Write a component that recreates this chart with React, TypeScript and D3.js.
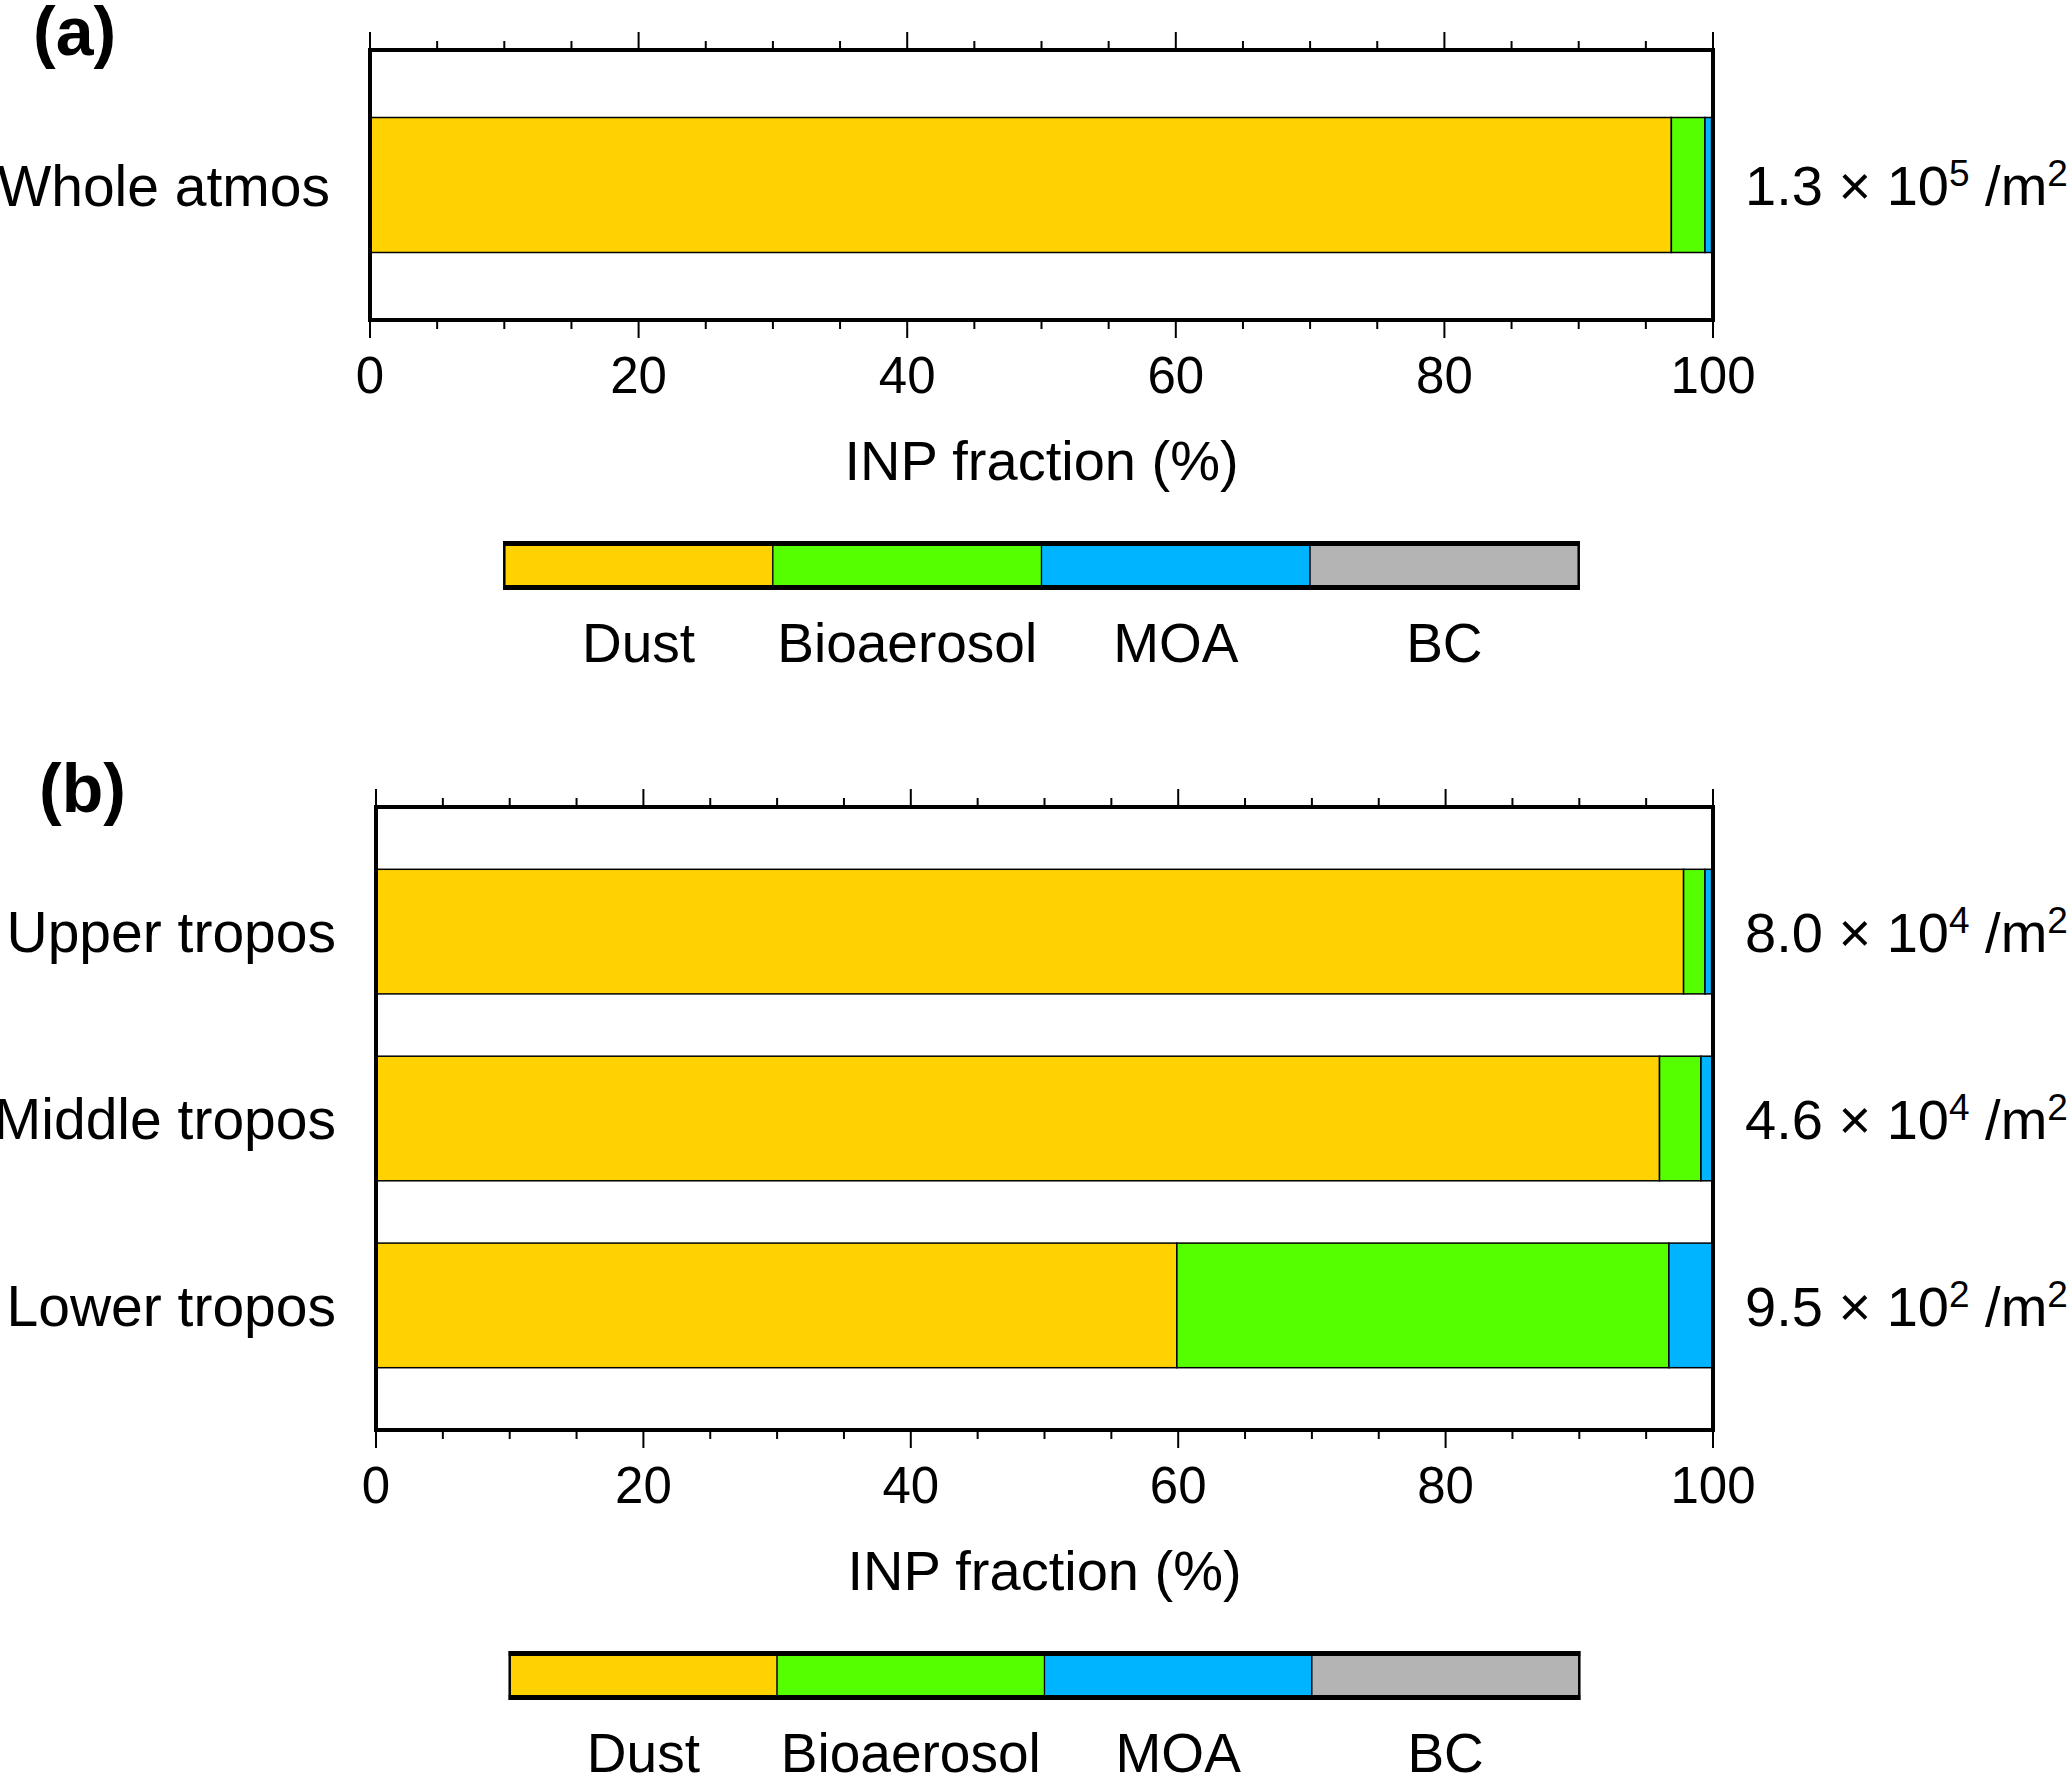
import * as d3 from 'd3';
import React from 'react';

const W = 2067;
const H = 1774;
const FONT = '"Liberation Sans", Arial, Helvetica, sans-serif';

const species = ['Dust', 'Bioaerosol', 'MOA', 'BC'];
const speciesColors = ['#FFD200', '#55FF00', '#00B4FF', '#B4B4B4'];

const regions = ['Whole atmos', 'Upper tropos', 'Middle tropos', 'Lower tropos'];
const dustPct = [96.9, 97.8, 96.0, 59.9];
const bioPct = [2.5, 1.6, 3.1, 36.8];
const moaPct = [0.5, 0.5, 0.85, 3.25];
const bcPct = [0.1, 0.1, 0.05, 0.05];
const totalMantissa = ['1.3', '8.0', '4.6', '9.5'];
const totalExponent = ['5', '4', '4', '2'];

const majorTicks = [0, 20, 40, 60, 80, 100];
const axisTitle = 'INP fraction (%)';

interface PanelProps {
  tag: string;
  rowIdx: number[];
  left: number;
  right: number;
  top: number;
  bottom: number;
}

const Panel = ({ tag, rowIdx, left, right, top, bottom }: PanelProps) => {
  const x = d3.scaleLinear().domain([0, 100]).range([left, right]);
  const names = rowIdx.map(i => regions[i]);
  const y = d3
    .scaleBand<string>()
    .domain(names)
    .range([top, bottom])
    .paddingInner(1 / 3)
    .paddingOuter(1 / 3);

  const rows = rowIdx.map(i => ({
    region: regions[i],
    Dust: dustPct[i],
    Bioaerosol: bioPct[i],
    MOA: moaPct[i],
    BC: bcPct[i],
  }));
  const series = d3.stack<any>().keys(species)(rows);
  const color = d3.scaleOrdinal<string>().domain(species).range(speciesColors);

  const minor = x.ticks(20);
  const legendX = d3.scaleBand<string>().domain(species).range([x(10), x(90)]);
  const legTop = bottom + 221;
  const legH = 49;

  return (
    <g>
      <text x={left - 337} y={top + 5} fontSize={68} fontWeight="bold" fontFamily={FONT}>
        {tag}
      </text>

      {/* stacked bars */}
      {series.map(s => (
        <g key={s.key} fill={color(s.key)}>
          {s.map(d => (
            <rect
              key={d.data.region}
              x={x(d[0])}
              width={Math.max(0, x(d[1]) - x(d[0]))}
              y={y(d.data.region)}
              height={y.bandwidth()}
              stroke="#000"
              strokeWidth={1.5}
            />
          ))}
        </g>
      ))}

      {/* frame */}
      <rect x={left} y={top} width={right - left} height={bottom - top} fill="none" stroke="#000" strokeWidth={4} />

      {/* ticks top and bottom */}
      {minor.map(t => {
        const len = majorTicks.includes(t) ? 18 : 9;
        return (
          <g key={t} stroke="#000" strokeWidth={2}>
            <line x1={x(t)} x2={x(t)} y1={top} y2={top - len} />
            <line x1={x(t)} x2={x(t)} y1={bottom} y2={bottom + len} />
          </g>
        );
      })}
      {majorTicks.map(t => (
        <text key={t} x={x(t)} y={bottom + 73} fontSize={51} textAnchor="middle" fontFamily={FONT}>
          {t}
        </text>
      ))}
      <text x={x(50)} y={bottom + 160} fontSize={56} textAnchor="middle" fontFamily={FONT}>
        {axisTitle}
      </text>

      {/* row labels and totals */}
      {rowIdx.map(i => {
        const cy = (y(regions[i]) as number) + y.bandwidth() / 2;
        return (
          <g key={i} fontFamily={FONT} fontSize={56}>
            <text x={left - 40} y={cy} dy="0.36em" textAnchor="end" fontSize={57}>
              {regions[i]}
            </text>
            <text x={right + 32} y={cy} dy="0.36em">
              <tspan>{totalMantissa[i]} × 10</tspan>
              <tspan fontSize={37} dy={-19}>{totalExponent[i]}</tspan>
              <tspan dy={19}> /m</tspan>
              <tspan fontSize={37} dy={-19}>2</tspan>
            </text>
          </g>
        );
      })}

      {/* colour legend */}
      {species.map(s => (
        <rect
          key={s}
          x={legendX(s)}
          width={legendX.bandwidth()}
          y={legTop + 2.5}
          height={legH - 5}
          fill={color(s)}
          stroke="#000"
          strokeWidth={1.2}
        />
      ))}
      <line x1={x(10) - 1} x2={x(90) + 1} y1={legTop + 2.5} y2={legTop + 2.5} stroke="#000" strokeWidth={5} />
      <line x1={x(10) - 1} x2={x(90) + 1} y1={legTop + legH - 2.5} y2={legTop + legH - 2.5} stroke="#000" strokeWidth={5} />
      <line x1={x(10)} x2={x(10)} y1={legTop} y2={legTop + legH} stroke="#000" strokeWidth={2.5} />
      <line x1={x(90)} x2={x(90)} y1={legTop} y2={legTop + legH} stroke="#000" strokeWidth={2.5} />
      {species.map(s => (
        <text
          key={s}
          x={(legendX(s) as number) + legendX.bandwidth() / 2}
          y={legTop + legH + 72}
          fontSize={55}
          textAnchor="middle"
          fontFamily={FONT}
        >
          {s}
        </text>
      ))}
    </g>
  );
};

const App = () => (
  <svg
    width={W}
    height={H}
    viewBox={`0 0 ${W} ${H}`}
    style={{ position: 'absolute', left: 0, top: 0, display: 'block', background: '#fff' }}
  >
    <rect width={W} height={H} fill="#fff" />
    <Panel tag="(a)" rowIdx={[0]} left={370} right={1713} top={50} bottom={320} />
    <Panel tag="(b)" rowIdx={[1, 2, 3]} left={376} right={1713} top={807} bottom={1430} />
  </svg>
);

export default App;
